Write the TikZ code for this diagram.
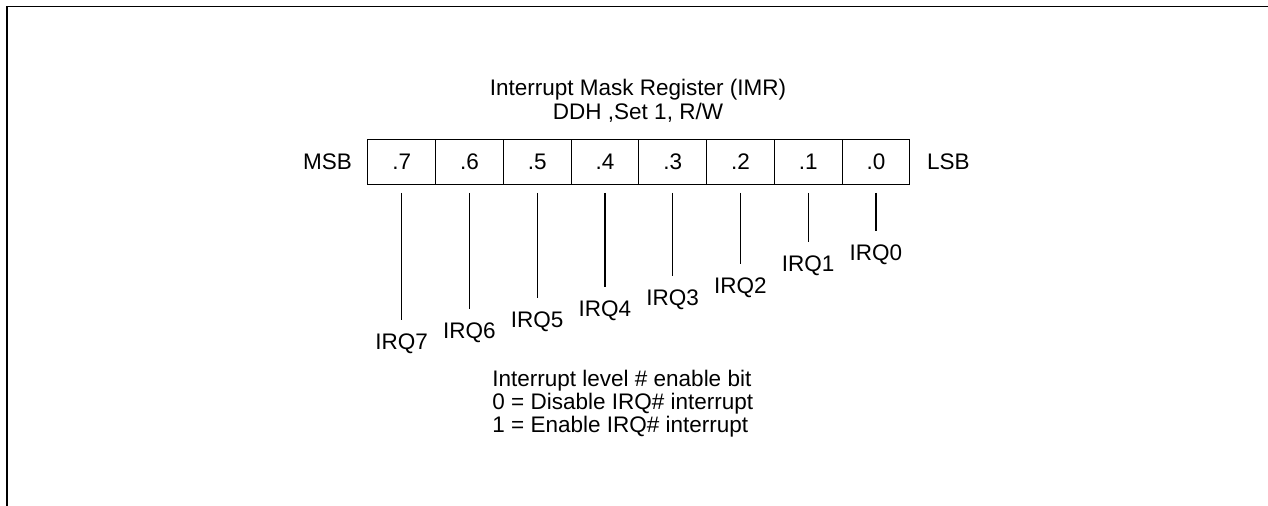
\documentclass[tikz,border=0pt]{standalone}
\usepackage{fontspec}
\setmainfont{Liberation Sans}
\usetikzlibrary{positioning}

\begin{document}
\begin{tikzpicture}[x=0.5pt, y=-0.5pt,
	every node/.style={font=\fontsize{11.25}{12}\selectfont, inner sep=0pt},
	bitcell/.style={draw, line width=0.5pt, minimum width=33.875pt, minimum height=22.5pt, anchor=north west},
	irqline/.style={line width=0.6pt}]
	\useasboundingbox (0,0) rectangle (1268,506);
	\draw[line width=0.8pt] (6.7,506) -- (6.7,6.7) -- (1268,6.7);
	\node[anchor=north, align=center] (title) at (638,78.5) {Interrupt Mask Register (IMR)\\ DDH ,Set 1, R/W};
	\foreach \b [count=\k from 0] in {7,...,0} {
		\node[bitcell] (c\b) at ({367.3+67.75*\k},139) {.\b};
	}
	\node[left=7.5pt of c7] (msb) {MSB};
	\node[right=8.25pt of c0] (lsb) {LSB};
	\foreach \b/\yb in {7/319,6/308,5/297,4/286,3/275,2/263,1/241,0/230} {
		\path (c\b.south) ++(0,{\yb-184}) coordinate (e\b);
		\node[anchor=north] (q\b) at ([yshift=-6.5pt]e\b) {IRQ\b};
		\draw[irqline] ([yshift=-4pt]c\b.south) -- ([yshift=6.5pt]q\b.north);
	}
	\node[anchor=north west, align=left, font=\fontsize{11.25}{10.25}\selectfont] (note) at (492,369.5) {Interrupt level \# enable bit\\ 0 = Disable IRQ\# interrupt\\ 1 = Enable IRQ\# interrupt};
\end{tikzpicture}
\end{document}
